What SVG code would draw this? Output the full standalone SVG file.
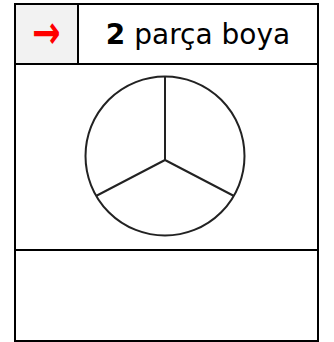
<svg xmlns="http://www.w3.org/2000/svg" width="334" height="342" viewBox="0 0 334 342">
<style>
.b{fill:none;stroke:#000;stroke-width:2}
.c{fill:none;stroke:#222;stroke-width:2}
.t{font-family:"DejaVu Sans","Liberation Sans",sans-serif;fill:#000}
.r{font-family:"DejaVu Sans","Liberation Sans",sans-serif;fill:#f00;font-weight:bold}
</style>
<rect x="0" y="0" width="334" height="342" fill="#fff"/>
<g id="table">
<rect x="16" y="5" width="62" height="58" fill="#f2f2f2"/>
<rect class="b" x="15" y="4" width="303" height="337"/>
<line class="b" x1="78" y1="4" x2="78" y2="64"/>
<line class="b" x1="15" y1="64" x2="318" y2="64"/>
<line class="b" x1="15" y1="250" x2="318" y2="250"/>
</g>
<g id="arrow-cell">
<text class="r" x="0" y="0" font-size="34" text-anchor="middle" transform="translate(46.5 31.5) scale(1 1.35) translate(0 12)">→</text>
</g>
<g id="title-cell">
<text class="t" x="198" y="44.3" font-size="28" text-anchor="middle"><tspan font-weight="bold">2</tspan> parça boya</text>
</g>
<g id="pie">
<circle class="c" cx="165" cy="156" r="79.5"/>
<path class="c" d="M165 76.5V160M165 160L96 196M165 160L234 196"/>
</g>
</svg>
